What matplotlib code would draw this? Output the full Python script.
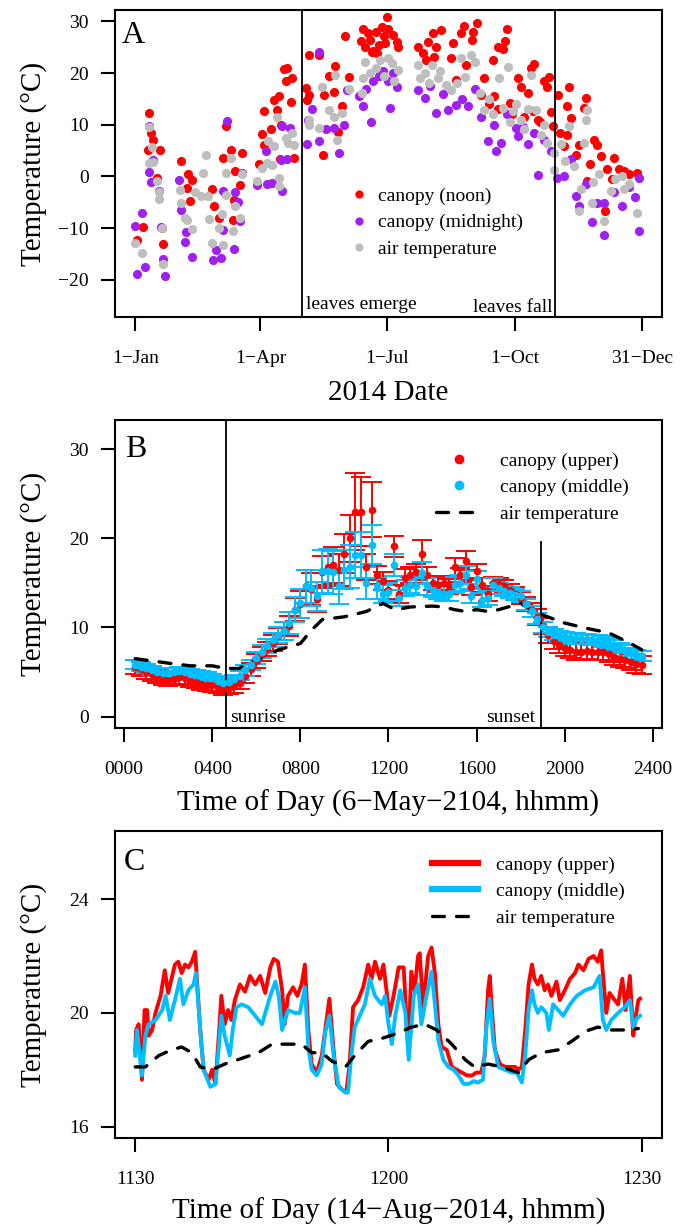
import numpy as np
import matplotlib.pyplot as plt
from matplotlib.lines import Line2D

plt.rcParams['font.family'] = ['Liberation Serif', 'DejaVu Serif']

RED = '#FF0000'
PURPLE = '#A020F0'
GRAY = '#BEBEBE'
BLUE = '#00BFFF'

# ---- panel A: daily canopy / air temperature, 2014 (day of year, degC)
noon_day = [10.5, 12, 14, 10, 19, 16.7, 6.5, 2, 21, 20, 34, 38.7, 42, 38, 40, 56.5, 57.8, 63.7, 66, 70,
            78, 73, 76, 72, 71, 61, 92, 93.5, 98.8, 101, 104, 103, 106, 108, 110, 114, 109, 113, 115, 105,
            90, 93.5, 125.7, 132.9, 123.8, 125.7, 124.5, 136.4, 143.6, 144.8, 140, 154.3, 149.5, 146.7,
            135.7, 151.9, 165, 163, 166, 168, 170, 172, 174, 176, 178, 180, 182, 183, 186.5, 188.8, 190,
            180.5, 171, 175, 204.3, 208, 211.5, 215, 217.5, 221, 216, 210.3, 229.4, 235.3, 237, 243, 243.7,
            246.8, 228.2, 239, 231.8, 252, 258, 261.6, 268, 266.8, 265, 249.6, 259, 270, 276, 278.3, 285.4,
            287.3, 283, 295, 298.5, 297.3, 290.2, 301, 304.5, 312.8, 311.2, 324.8, 323.6, 314, 317.6, 330.7,
            335.5, 345, 348.6, 352.2, 361.7, 339, 326, 311.6, 309, 280.6, 286.6, 255, 262, 272, 292, 300,
            306, 320, 328, 340, 344, 356, 333]
noon_temp = [12.2, 8.5, 7.0, 5.2, 5.1, -0.3, -9.8, -12.3, -13.1, -9.9, 3.0, 0.4, -0.6, -2.2, -4.8, -2.4, -5.7,
             3.6, 9.7, 5.1, 4.6, 1.0, -1.7, -4.6, -8.4, -8.0, 8.3, 12.6, 9.1, 14.8, 15.6, 12.9, 9.9, 20.7,
             20.9, 19.0, 18.4, 14.5, 3.6, 3.3, 2.4, 6.0, 23.5, 23.5, 17.1, 15.8, 14.8, 15.8, 16.4, 21.3, 19.5,
             19.3, 13.6, 8.7, 4.1, 27.2, 28.6, 26.2, 25.0, 27.8, 26.5, 24.3, 28.0, 25.5, 29.0, 27.2, 30.9,
             28.6, 27.4, 26.1, 25.1, 25.8, 24.0, 23.8, 25.0, 23.8, 26.1, 27.8, 25.1, 28.3, 23.2, 22.5, 25.8,
             27.7, 29.1, 26.5, 28.0, 29.6, 22.9, 21.6, 18.7, 19.0, 22.5, 25.0, 28.6, 26.3, 24.6, 15.8, 15.5,
             14.2, 19.0, 17.4, 20.9, 21.8, 16.1, 18.4, 19.3, 17.4, 11.0, 9.7, 15.8, 17.4, 13.7, 15.2, 13.2,
             11.3, 4.2, 7.1, 3.9, 3.6, 1.5, 1.0, 0.7, -6.7, -0.9, 8.1, 5.8, 11.6, 12.6, 14.0, 13.0, 12.0,
             10.5, 12.5, 8.5, 6.0, 2.5, 1.5, -0.5, 0.5, 6.0]

mid_day = [6, 1, 2, 7.7, 22, 20.8, 19.6, 11, 10.5, 12, 14, 18.4, 32.7, 34, 37.5, 37, 41.8, 57, 59, 62.5,
           64, 71.6, 67, 72.8, 74.5, 76, 64, 88.7, 95.4, 99.5, 106.6, 94.7, 106, 110, 111.9, 106.6, 78,
           133, 125, 128, 124.5, 133, 138, 143.6, 147.6, 150.7, 153, 165, 170.5, 184, 162, 167, 172, 176,
           179, 182.9, 188.8, 186, 204.3, 209, 217.5, 225.8, 231.8, 240, 249.6, 259.2, 254.4, 260.4, 264,
           274.7, 276, 283, 290.2, 304, 309, 317.6, 320, 329.5, 338, 351, 363, 363, 338, 333, 314, 287.8,
           213, 222, 236, 245, 268, 280, 295, 300, 325, 345, 356, 360]
mid_temp = [-7.0, -9.6, -18.8, -17.6, -19.2, -16.0, -9.7, 9.7, 0.8, -1.0, 3.1, -2.8, -0.6, -6.4, -10.7, -12.6,
            -15.5, -16.1, -14.2, -15.7, -10.3, -14.1, 10.8, -3.1, -4.9, -8.6, -2.8, -1.7, -1.5, -1.2, -2.8,
            4.9, 3.1, 3.3, 9.4, 9.7, 0.6, 24.0, 11.0, 13.0, 6.2, 6.8, 9.1, 9.4, 4.6, 10.0, 16.8, 13.6, 10.5,
            13.2, 15.5, 17.0, 18.5, 19.5, 20.5, 18.4, 17.4, 20.0, 16.8, 15.2, 12.3, 12.9, 13.9, 13.6, 11.6,
            10.0, 6.8, 4.9, 6.5, 9.4, 7.8, 6.2, 0.2, -0.3, 0.1, -3.8, -5.7, -8.9, -11.4, -5.7, -10.5, -0.3,
            -5.1, -5.1, 3.3, 8.4, 17.5, 16.0, 15.0, 17.0, 12.0, 9.5, 7.0, 5.0, -1.5, -3.0, -2.0, -4.0]

air_day = [10.5, 13, 11, 14, 16.8, 18.4, 18, 20, 20.8, 6, 1, 33, 34, 37, 38, 41.8, 44, 48, 50, 51.7, 53,
           54, 56, 63, 64, 61, 66, 71, 73, 76, 78, 69.7, 66, 88.7, 92, 96, 99.5, 104, 104, 103, 96.6, 101,
           109, 111, 115, 114, 135, 140, 133, 126, 126, 144.8, 154.3, 143.6, 149.5, 146, 164, 165, 166, 170,
           174, 177, 180, 183, 185.3, 190, 187, 204.3, 209, 214, 218.6, 224.6, 228.2, 235.3, 242, 245,
           237.7, 248.5, 252, 262.8, 268.7, 265, 272.3, 278.3, 280.6, 285.4, 289, 292.6, 297.3, 302, 306.9,
           312.8, 323.6, 324.8, 326, 316.4, 321.2, 320, 329.5, 338, 342.6, 351, 352.2, 361.7, 334.3, 302,
           206, 212, 220, 232, 255, 258, 270, 275, 283, 295, 310, 330, 346, 356]
air_temp = [9.6, 5.7, 2.6, 2.8, -0.9, -3.1, -4.3, -10.0, -17.0, -14.9, -12.8, -2.7, -5.1, -8.0, -8.4, -10.2,
            -3.1, -3.8, 0.7, 4.2, -3.8, -8.3, -12.8, -7.3, -13.3, -9.9, -3.6, -10.5, -5.7, -8.0, 0.4, 3.6,
            0.7, -0.9, 1.7, 2.6, 2.3, -1.9, -0.3, 11.6, 6.8, 5.8, 7.5, 6.5, 6.0, 8.4, 17.4, 12.9, 9.4, 10.0,
            11.0, 19.7, 16.9, 11.6, 12.3, 7.1, 16.1, 19.0, 22.2, 20.0, 21.0, 22.5, 19.5, 23.0, 21.9, 20.6,
            18.5, 21.6, 20.0, 21.6, 19.0, 17.7, 16.8, 22.9, 23.5, 22.2, 19.3, 16.1, 12.9, 19.0, 21.1, 13.2,
            12.6, 11.0, 9.1, 19.7, 12.9, 8.1, 6.5, 4.6, 6.2, 9.7, 6.5, 11.0, 12.9, 2.0, -2.5, -6.7, -5.1,
            -8.6, -2.8, 0.1, -2.5, -7.1, 0.4, 1.3, 19.0, 18.0, 20.5, 18.0, 15.0, 12.0, 10.5, 14.0, 13.0,
            10.0, 3.0, -1.0, -0.5, -1.5]

leaves_emerge = 120.5
leaves_fall = 302.9
a_ticks = [1, 91, 182, 274, 365]
a_ticklabels = ['1\u2212Jan', '1\u2212Apr', '1\u2212Jul', '1\u2212Oct', '31\u2212Dec']

# ---- panel B: 6 May, 15-min means +/- error (time as decimal hour x 100)
b_time = np.arange(50, 2351, 25)
upper_mean = [5.6, 5.3, 5.0, 4.8, 4.5, 4.2, 4.1, 4.2, 4.4, 4.3, 4.0, 3.9, 3.7, 3.6, 3.5, 3.3, 3.1,
              3.2, 3.4, 3.8, 4.5, 5.3, 6.2, 7.0, 7.6, 8.3, 9.0, 9.6, 10.2, 12.0, 12.6, 14.6, 14.3, 13.2,
              16.2, 16.8, 17.0, 16.4, 18.3, 20.0, 23.0, 23.0, 16.8, 23.2, 15.9, 15.2, 14.2, 19.1, 13.8,
              15.6, 15.9, 16.2, 18.3, 15.9, 15.0, 14.8, 15.0, 14.6, 16.8, 15.9, 17.5, 14.5, 16.3, 14.8,
              13.8, 15.0, 14.9, 14.6, 14.2, 13.8, 13.3, 12.6, 12.0, 11.2, 10.2, 9.2, 8.5, 8.0, 7.7, 7.5,
              7.3, 7.3, 7.4, 7.3, 7.3, 7.2, 7.0, 6.7, 6.5, 6.3, 6.1, 5.9, 5.8]
upper_err = [0.8, 0.8, 0.8, 0.8, 0.7, 0.7, 0.7, 0.7, 0.7, 0.7, 0.7, 0.7, 0.7, 0.7, 0.7, 0.7, 0.7,
             0.7, 0.7, 0.7, 0.7, 0.7, 0.8, 0.8, 0.8, 0.9, 0.9, 1.0, 1.1, 1.3, 1.5, 1.8, 1.8, 1.5,
             1.8, 2.0, 2.0, 1.8, 2.2, 2.6, 4.3, 3.9, 1.5, 3.1, 1.0, 1.0, 1.0, 1.2, 1.0, 1.0, 0.9,
             0.9, 1.5, 0.9, 0.8, 0.8, 0.8, 0.8, 1.0, 0.8, 1.1, 0.8, 0.8, 0.8, 0.8, 0.7, 0.7, 0.7,
             0.7, 0.7, 0.7, 0.8, 0.8, 0.9, 0.9, 0.9, 0.9, 0.9, 0.9, 0.9, 0.9, 0.9, 0.9, 0.9, 0.9,
             0.9, 0.9, 0.9, 0.9, 0.9, 0.9, 1.0, 1.0]
middle_mean = [5.8, 5.6, 5.4, 5.2, 5.0, 4.9, 4.9, 5.0, 5.1, 5.0, 4.8, 4.7, 4.6, 4.5, 4.3, 4.0, 3.8,
               3.9, 4.2, 4.6, 5.2, 5.8, 6.6, 7.3, 7.9, 8.6, 9.2, 9.6, 10.5, 12.0, 12.7, 14.6, 14.4, 13.5,
               16.3, 16.3, 16.2, 14.6, 16.5, 16.8, 18.1, 18.1, 15.0, 19.3, 14.4, 13.8, 14.0, 17.0, 13.3,
               14.4, 14.8, 14.6, 16.1, 14.6, 14.2, 14.0, 13.8, 13.8, 14.8, 15.0, 15.9, 13.5, 15.4, 13.1,
               13.3, 14.8, 14.4, 14.1, 13.9, 13.7, 13.5, 12.6, 11.8, 11.0, 10.0, 9.5, 9.2, 9.0, 8.9, 8.8,
               8.8, 8.7, 8.7, 8.6, 8.6, 8.4, 8.2, 8.0, 7.7, 7.4, 7.1, 6.9, 6.8]
middle_err = [0.5, 0.5, 0.5, 0.5, 0.5, 0.5, 0.5, 0.5, 0.5, 0.5, 0.5, 0.5, 0.5, 0.5, 0.5, 0.5, 0.5,
              0.5, 0.5, 0.5, 0.6, 0.6, 0.7, 0.7, 0.8, 0.8, 0.9, 1.0, 1.2, 1.4, 1.6, 1.9, 2.0, 1.6,
              2.4, 2.5, 2.4, 2.0, 2.2, 2.4, 2.6, 2.6, 1.8, 2.2, 1.2, 1.0, 1.0, 1.2, 0.9, 0.9, 0.9,
              0.9, 1.2, 0.9, 0.8, 0.8, 0.8, 0.8, 0.9, 0.9, 1.0, 0.8, 0.9, 0.8, 0.8, 0.7, 0.6, 0.6,
              0.6, 0.6, 0.6, 0.6, 0.6, 0.6, 0.6, 0.6, 0.6, 0.6, 0.6, 0.6, 0.6, 0.6, 0.6, 0.6, 0.6,
              0.6, 0.6, 0.6, 0.6, 0.6, 0.6, 0.6, 0.6]
b_air_time = [50, 200, 300, 400, 460, 520, 600, 700, 800, 850, 900, 1000, 1100, 1175, 1230, 1300, 1400,
              1450, 1500, 1550, 1600, 1650, 1700, 1800, 1850, 1900, 2000, 2100, 2200, 2300, 2350]
b_air_temp = [6.5, 6.0, 5.7, 5.7, 5.4, 5.4, 6.4, 7.5, 8.2, 9.7, 10.9, 11.2, 11.8, 12.7, 12.0, 12.3, 12.4,
              12.3, 12.0, 11.8, 12.0, 11.8, 12.0, 12.7, 12.0, 11.4, 10.5, 9.9, 9.4, 8.2, 7.5]
sunrise = 460
sunset = 1893
b_ticks = [0, 400, 800, 1200, 1600, 2000, 2400]
b_ticklabels = ['0000', '0400', '0800', '1200', '1600', '2000', '2400']

# ---- panel C: 14 Aug, 11:30-12:30 (minutes after 11:30)
c_upper_min = [0.0, 0.1, 0.4, 0.8, 1.1, 1.4, 1.6, 2.0, 2.4, 3.0, 3.5, 3.9, 4.3, 4.7, 5.1, 5.5, 5.9, 6.3,
               6.7, 7.1, 7.3, 7.7, 8.1, 8.7, 9.1, 9.5, 9.9, 10.2, 10.6, 11.0, 11.4, 11.8, 12.4, 13.0,
               13.6, 14.2, 14.8, 15.4, 16.0, 16.4, 16.9, 17.4, 17.7, 18.1, 18.7, 19.2, 19.7, 20.1, 20.5,
               20.9, 21.5, 22.1, 22.5, 23.0, 23.5, 23.9, 24.5, 25.0, 25.4, 25.8, 26.4, 27.0, 27.6, 28.0,
               28.4, 29.0, 29.4, 29.8, 30.1, 30.6, 31.2, 31.8, 32.2, 32.4, 32.7, 33.1, 33.5, 33.7, 34.1,
               34.7, 35.1, 35.5, 35.9, 36.3, 36.9, 37.5, 38.1, 38.7, 39.3, 39.9, 40.4, 41.0, 41.4, 41.8,
               42.0, 42.2, 42.6, 43.2, 43.8, 44.4, 45.0, 45.4, 45.8, 46.2, 46.6, 47.0, 47.3, 47.7, 48.1,
               48.5, 48.9, 49.3, 49.9, 50.3, 50.9, 51.5, 52.1, 52.5, 53.1, 53.7, 54.3, 54.8, 55.2, 55.4,
               55.8, 56.2, 56.8, 57.2, 57.7, 58.1, 58.6, 59.0, 59.3, 59.6, 59.8]
c_upper_temp = [18.64, 19.4, 19.6, 17.65, 20.1, 20.1, 19.2, 19.4, 20.0, 20.6, 21.5, 20.7, 21.2, 21.7,
                21.8, 21.4, 21.7, 21.6, 21.8, 22.15, 21.2, 19.4, 18.0, 17.65, 18.0, 17.5, 19.2, 20.6,
                19.6, 20.1, 19.75, 20.45, 21.0, 20.75, 21.3, 21.0, 21.3, 20.7, 21.6, 21.9, 21.8, 20.8,
                19.6, 20.6, 20.9, 20.6, 21.0, 21.7, 19.4, 18.2, 17.9, 18.5, 19.4, 20.5, 18.7, 17.5, 17.3,
                17.2, 18.2, 20.2, 20.45, 20.9, 21.7, 21.2, 21.8, 21.2, 21.7, 20.7, 19.9, 20.6, 21.6, 21.6,
                19.4, 19.05, 21.45, 20.8, 22.0, 22.1, 20.2, 22.0, 22.3, 21.4, 19.6, 18.8, 18.7, 18.1,
                18.0, 17.9, 17.8, 17.8, 17.9, 17.9, 18.5, 20.8, 21.3, 20.3, 18.7, 18.2, 18.1, 18.1, 18.1,
                18.0, 18.1, 19.4, 21.0, 21.7, 21.2, 21.0, 21.3, 20.8, 21.0, 20.6, 21.1, 20.45, 20.8, 21.2,
                21.4, 21.7, 21.5, 21.9, 22.0, 21.8, 22.2, 21.4, 20.0, 20.7, 20.45, 20.3, 21.2, 20.1, 21.3,
                19.2, 19.9, 20.45, 20.5]
c_middle_min = [0.0, 0.2, 0.8, 1.2, 1.6, 2.4, 3.2, 3.6, 4.1, 4.7, 5.3, 5.7, 6.3, 6.9, 7.2, 7.7, 8.1, 8.9,
                9.5, 9.9, 10.2, 10.6, 11.2, 11.6, 12.0, 12.6, 13.4, 14.2, 15.0, 16.0, 16.6, 17.0, 17.4,
                18.1, 18.9, 19.5, 20.1, 20.5, 20.9, 21.5, 22.1, 22.5, 23.0, 23.5, 24.1, 24.9, 25.2, 25.6,
                26.0, 26.6, 27.2, 27.8, 28.4, 29.2, 29.6, 30.0, 30.4, 30.8, 31.4, 32.0, 32.4, 33.0, 33.5,
                33.9, 34.5, 35.1, 35.5, 35.9, 36.5, 37.1, 37.7, 38.3, 38.9, 39.5, 40.1, 40.6, 41.2, 41.6,
                42.0, 42.4, 43.0, 43.8, 44.6, 45.2, 45.8, 46.2, 46.6, 47.0, 47.3, 47.7, 48.1, 48.7, 49.0,
                49.5, 50.1, 50.7, 51.5, 52.3, 53.3, 54.3, 55.0, 55.4, 55.8, 56.4, 57.2, 58.0, 58.6, 59.0,
                59.4, 59.8]
c_middle_temp = [18.5, 19.4, 17.8, 19.2, 19.6, 19.75, 20.1, 20.6, 19.75, 20.45, 21.2, 20.3, 20.8, 21.0,
                 21.4, 19.4, 18.0, 17.4, 17.5, 18.8, 19.9, 19.2, 18.5, 19.5, 20.2, 20.3, 20.2, 19.9, 19.6,
                 20.6, 21.1, 20.6, 19.4, 20.1, 20.0, 20.0, 20.9, 18.8, 18.0, 17.8, 18.2, 19.3, 19.9, 18.5,
                 17.4, 17.2, 17.2, 18.5, 19.5, 19.9, 20.3, 21.2, 20.6, 20.3, 20.6, 19.6, 18.9, 19.9, 20.8,
                 20.0, 18.35, 20.6, 21.0, 19.6, 20.6, 21.45, 20.3, 19.05, 18.35, 18.1, 18.0, 17.8, 17.5,
                 17.5, 17.6, 17.55, 17.65, 19.5, 20.5, 19.05, 18.1, 18.0, 17.9, 17.9, 17.55, 18.5, 20.1,
                 20.8, 20.3, 20.0, 20.2, 20.0, 19.4, 20.3, 20.1, 19.9, 20.3, 20.6, 20.8, 20.9, 21.3, 19.75,
                 19.4, 19.75, 20.0, 20.2, 20.45, 19.5, 19.8, 19.9]
c_air_min = [0.0, 1.2, 2.8, 4.3, 5.5, 6.7, 7.7, 9.1, 10.6, 12.6, 14.6, 16.2, 17.7, 19.7, 20.9, 22.1, 23.3,
             24.9, 26.0, 27.6, 29.2, 31.2, 32.7, 34.3, 35.7, 37.5, 39.1, 40.2, 41.8, 43.4, 45.4, 46.6,
             48.1, 50.1, 51.7, 53.3, 54.8, 56.4, 58.0, 59.6]
c_air_temp = [18.1, 18.1, 18.5, 18.7, 18.8, 18.6, 18.1, 18.0, 18.2, 18.4, 18.6, 18.9, 18.9, 18.9, 18.6,
              18.6, 18.3, 18.1, 18.5, 19.0, 19.1, 19.3, 19.5, 19.6, 19.4, 18.9, 18.35, 18.1, 18.2, 18.1,
              17.9, 18.35, 18.6, 18.7, 19.0, 19.35, 19.5, 19.4, 19.4, 19.45]
c_ticks = [0, 30, 60]
c_ticklabels = ['1130', '1200', '1230']

DASH = (3.6, 3.6)


def style(ax):
    for s in ax.spines.values():
        s.set_linewidth(1.5)
    ax.tick_params(direction='out', length=10, width=1.5, labelsize=14)
    ax.tick_params(axis='x', pad=14)
    ax.tick_params(axis='y', pad=9)
    ax.set_ylabel('Temperature (\u00b0C)', fontsize=21)
    ax.yaxis.set_label_coords(-0.125, 0.5)


fig = plt.figure(figsize=(6.84, 12.26), dpi=100)
axA = fig.add_axes([0.1681, 0.7414, 0.7997, 0.2504])
axB = fig.add_axes([0.1681, 0.4062, 0.7997, 0.2512])
axC = fig.add_axes([0.1681, 0.0718, 0.7997, 0.2504])

# A
axA.plot(noon_day, noon_temp, 'o', color=RED, ms=6.6, mec='none', label='canopy (noon)')
axA.plot(mid_day, mid_temp, 'o', color=PURPLE, ms=6.6, mec='none', label='canopy (midnight)')
axA.plot(air_day, air_temp, 'o', color=GRAY, ms=6.6, mec='none', label='air temperature')
axA.axvline(leaves_emerge, color='black', lw=1.3)
axA.axvline(leaves_fall, color='black', lw=1.3)
axA.text(leaves_emerge + 3, 0.026, 'leaves emerge', transform=axA.get_xaxis_transform(),
         fontsize=14, ha='left', va='baseline')
axA.text(leaves_fall - 2, 0.016, 'leaves fall', transform=axA.get_xaxis_transform(),
         fontsize=14, ha='right', va='baseline')
axA.set_xlim(-13.6, 379.6)
axA.set_ylim(-27.2, 32.2)
axA.set_yticks([-20, -10, 0, 10, 20, 30])
axA.set_xticks(a_ticks)
axA.set_xticklabels(a_ticklabels)
style(axA)
axA.set_xlabel('2014 Date', fontsize=21)
axA.xaxis.set_label_coords(0.5, -0.205)
axA.text(0.013, 0.8925, 'A', transform=axA.transAxes, fontsize=23, ha='left', va='baseline')
axA.legend(loc='upper left', bbox_to_anchor=(0.428, 0.423), frameon=False, fontsize=14,
           numpoints=1, handlelength=1.0, handletextpad=0.48, labelspacing=0.46,
           borderpad=0, borderaxespad=0, markerscale=0.9)

# B
axB.errorbar(b_time, upper_mean, yerr=upper_err, fmt='o', color=RED, ms=5.5, mec='none',
             elinewidth=1.4, capsize=7.5, capthick=1.4)
axB.errorbar(b_time, middle_mean, yerr=middle_err, fmt='o', color=BLUE, ms=5.5, mec='none',
             elinewidth=1.4, capsize=7.5, capthick=1.4)
axB.plot(b_air_time, b_air_temp, color='black', lw=2.4, dashes=DASH, dash_capstyle='round')
axB.axvline(sunrise, color='black', lw=1.3)
axB.axvline(sunset, ymin=0, ymax=0.604, color='black', lw=1.3)
axB.text(sunrise + 22, 0.02, 'sunrise', transform=axB.get_xaxis_transform(),
         fontsize=14, ha='left', va='baseline')
axB.text(sunset - 28, 0.02, 'sunset', transform=axB.get_xaxis_transform(),
         fontsize=14, ha='right', va='baseline')
axB.set_xlim(-42, 2442)
axB.set_ylim(-1.28, 33.28)
axB.set_yticks([0, 10, 20, 30])
axB.set_xticks(b_ticks)
axB.set_xticklabels(b_ticklabels)
style(axB)
axB.set_xlabel('Time of Day (6\u2212May\u22122104, hhmm)', fontsize=21)
axB.xaxis.set_label_coords(0.5, -0.2)
axB.text(0.018, 0.88, 'B', transform=axB.transAxes, fontsize=23, ha='left', va='baseline')
hB = [Line2D([], [], ls='none', marker='o', ms=7, color=RED, mec='none'),
      Line2D([], [], ls='none', marker='o', ms=7, color=BLUE, mec='none'),
      Line2D([], [], color='black', lw=2.4, dashes=DASH, dash_capstyle='round')]
lB = ['canopy (upper)', 'canopy (middle)', 'air temperature']
axB.legend(hB, lB, loc='upper left', bbox_to_anchor=(0.587, 0.896), frameon=False, fontsize=14,
           numpoints=1, handlelength=2.37, handletextpad=0.93, labelspacing=0.46,
           borderpad=0, borderaxespad=0)

# C
axC.plot(c_upper_min, c_upper_temp, color=RED, lw=2.8, label='canopy (upper)')
axC.plot(c_middle_min, c_middle_temp, color=BLUE, lw=2.8, label='canopy (middle)')
axC.plot(c_air_min, c_air_temp, color='black', lw=2.4, dashes=DASH, dash_capstyle='round',
         label='air temperature')
axC.set_xlim(-2.4, 62.4)
axC.set_ylim(15.6, 26.4)
axC.set_yticks([16, 20, 24])
axC.set_xticks(c_ticks)
axC.set_xticklabels(c_ticklabels)
style(axC)
axC.set_xlabel('Time of Day (14\u2212Aug\u22122014, hhmm)', fontsize=21)
axC.xaxis.set_label_coords(0.5, -0.195)
axC.text(0.016, 0.873, 'C', transform=axC.transAxes, fontsize=23, ha='left', va='baseline')
hC = [Line2D([], [], color=RED, lw=4.5),
      Line2D([], [], color=BLUE, lw=4.5),
      Line2D([], [], color='black', lw=2.4, dashes=DASH, dash_capstyle='round')]
lC = ['canopy (upper)', 'canopy (middle)', 'air temperature']
axC.legend(hC, lC, loc='upper left', bbox_to_anchor=(0.580, 0.919), frameon=False, fontsize=14,
           handlelength=2.37, handletextpad=0.93, labelspacing=0.46,
           borderpad=0, borderaxespad=0)

fig.savefig('out.png', dpi=100)
